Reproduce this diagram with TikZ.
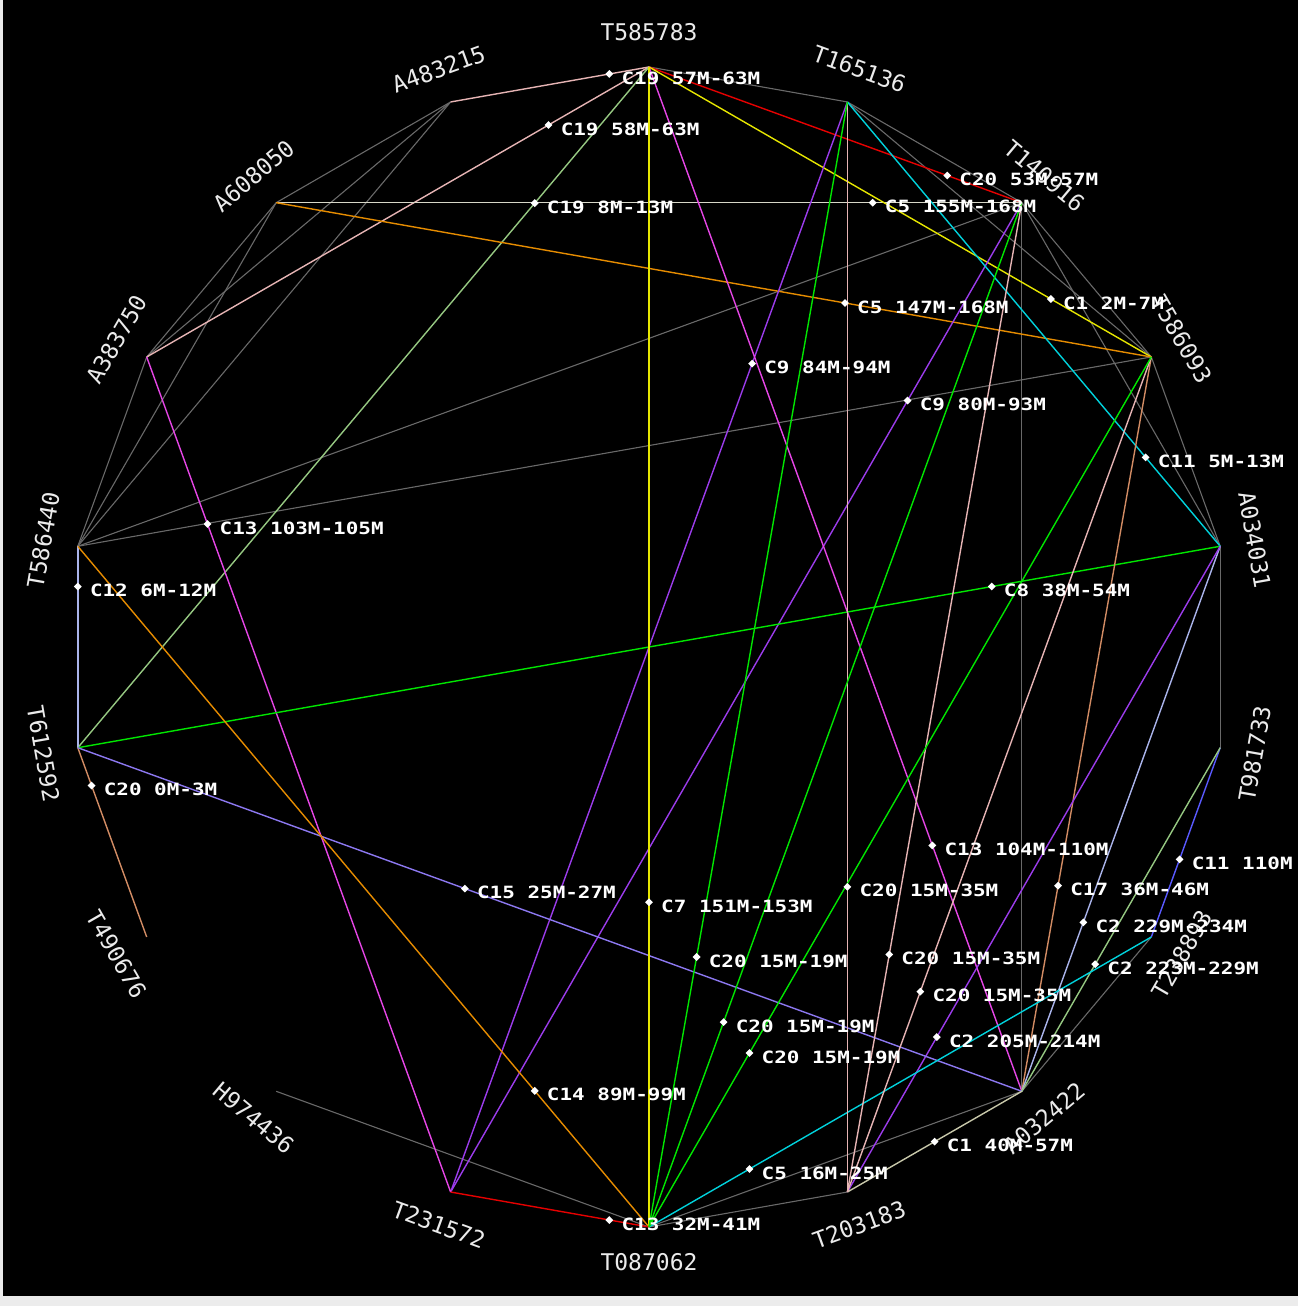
\documentclass[tikz,border=0pt]{standalone}
\usepackage{fontspec}
\newfontfamily\vfont{DejaVu Sans Mono}
\newfontfamily\cfont{DejaVu Sans Mono Bold}[FakeStretch=1.24]
\usetikzlibrary{shapes.geometric}
\definecolor{cgray}{RGB}{105,105,105}
\definecolor{cpink}{RGB}{230,180,180}
\definecolor{clgreen}{RGB}{150,200,130}
\definecolor{cgreen}{RGB}{0,230,0}
\definecolor{cyellow}{RGB}{230,230,0}
\definecolor{cred}{RGB}{230,0,0}
\definecolor{cmag}{RGB}{230,70,230}
\definecolor{corange}{RGB}{230,140,0}
\definecolor{ccyan}{RGB}{0,210,220}
\definecolor{cwhite}{RGB}{215,215,200}
\definecolor{csteel}{RGB}{170,180,235}
\definecolor{cblue}{RGB}{90,90,255}
\definecolor{csienna}{RGB}{210,140,100}
\definecolor{ckhaki}{RGB}{200,200,170}
\definecolor{cslate}{RGB}{140,120,240}
\definecolor{cpurple}{RGB}{155,60,235}
\definecolor{cframe}{RGB}{236,236,236}
\definecolor{ctext}{RGB}{235,235,235}
\begin{document}
\begin{tikzpicture}[x=1pt,y=1pt,
  gline/.style={draw=cgray, line width=1.1pt},
  cline/.style={draw=#1, line width=1.4pt},
  dmd/.style={diamond, fill=white, draw=none, inner sep=0pt, minimum width=8pt, minimum height=8pt},
  clab/.style={text=white, font=\cfont\fontsize{16.9}{18}\selectfont, anchor=west, inner sep=0pt, xshift=12pt, yshift=-4pt},
  vlab/.style={text=ctext, font=\vfont\fontsize{23}{25}\selectfont, inner sep=0pt}
]
\fill[cframe] (0,0) rectangle (1298,1306);
\fill[black] (3,10) rectangle (1298,1306);
\useasboundingbox (0,0) rectangle (1298,1306);
\coordinate (O) at (649,659);
\foreach \k in {0,...,17} \path (O) ++({90-20*\k}:580) coordinate (v\k);
% vertex labels
\foreach \k/\t/\r in {0/T585783/0, 1/T165136/-20, 2/T140916/-40, 3/T586093/-60,
  4/A034031/-80, 5/T981733/80, 6/T238893/60, 7/A032422/40, 8/T203183/20,
  9/T087062/0, 10/T231572/-20, 11/H974436/-40, 12/T490676/-60, 13/T612592/-80,
  14/T586440/80, 15/A383750/60, 16/A608050/40, 17/A483215/20}
  \path (O) ++({90-20*\k}:615) node[vlab, rotate=\r] (lab\k) {\t};
% gray edges
\foreach \a/\b in {v0/v1, v1/v2, v1/v3, v2/v3, v2/v4, v3/v4, v4/v5, v6/v7, v7/v9,
  v8/v9, v9/v11, v2/v7, v14/v2, v14/v3, v14/v15, v14/v16, v14/v17, v15/v16,
  v15/v17, v16/v17}
  \draw[gline] (\a) -- (\b);
% coloured edges
\def\cedges{cpink/v17/v0/0.8/C19 57M-63M,
cpink/v15/v0/0.8/C19 58M-63M,
cred/v0/v2/0.8/C20 53M-57M,
clgreen/v13/v0/0.8/C19 8M-13M,
cwhite/v16/v2/0.8/C5 155M-168M,
cyellow/v0/v3/0.8/C1 2M-7M,
corange/v16/v3/0.65/C5 147M-168M,
cpurple/v10/v1/0.76/C9 84M-94M,
cpurple/v10/v2/0.8/C9 80M-93M,
ccyan/v1/v4/0.8/C11 5M-13M,
cmag/v10/v15/0.8/C13 103M-105M,
csteel/v13/v14/0.8/C12 6M-12M,
cgreen/v13/v4/0.8/C8 38M-54M,
csienna/v12/v13/0.8/C20 0M-3M,
cmag/v0/v7/0.76/C13 104M-110M,
cblue/v5/v6/0.59/C11 110M,
csienna/v3/v7/0.72/C17 36M-46M,
csteel/v4/v7/0.69/C2 229M-234M,
clgreen/v5/v7/0.63/C2 223M-229M,
cpurple/v4/v8/0.76/C2 205M-214M,
cslate/v13/v7/0.41/C15 25M-27M,
cyellow/v0/v9/0.72/C7 151M-153M,
corange/v14/v9/0.8/C14 89M-99M,
ccyan/v6/v9/0.8/C5 16M-25M,
ckhaki/v7/v8/0.5/C1 40M-57M,
cred/v10/v9/0.8/C13 32M-41M,
cpink/v1/v8/0.72/C20 15M-35M,
cpink/v2/v8/0.76/C20 15M-35M,
cpink/v3/v8/0.76/C20 15M-35M,
cgreen/v1/v9/0.76/C20 15M-19M,
cgreen/v2/v9/0.8/C20 15M-19M,
cgreen/v3/v9/0.8/C20 15M-19M}
\foreach \c/\a/\b/\p/\t in \cedges
  \draw[cline=\c] (\a) -- (\b);
\foreach \c/\a/\b/\p/\t in \cedges
  \path (\a) -- (\b) node[pos=\p, dmd] (d\a\b) {} node[pos=\p, clab] (t\a\b) {\t};
\end{tikzpicture}
\end{document}
